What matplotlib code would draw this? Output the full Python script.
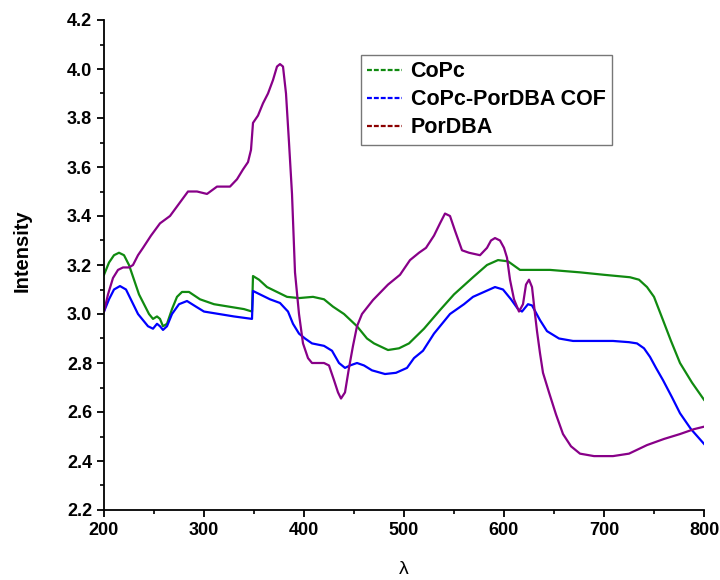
import numpy as np
import matplotlib
matplotlib.use('Agg')
import matplotlib.pyplot as plt
from matplotlib.lines import Line2D
from matplotlib.ticker import MultipleLocator

plt.rcParams['font.family'] = ['Liberation Sans', 'DejaVu Sans']

#**************** data ****************#
copc_x = [200, 205, 210, 215, 220, 225, 230, 235, 240, 245, 249, 253, 256, 259, 263,
          268, 273, 278, 285, 296, 310, 325, 340, 348, 349, 355, 363, 373, 383, 395,
          409, 420, 429, 440, 453, 463, 470, 484, 495, 505, 520, 536, 550, 569, 583,
          594, 604, 616, 630, 646, 676, 700, 726, 735, 743, 750, 759, 767, 776, 788, 800]
copc_y = [3.16, 3.21, 3.24, 3.25, 3.24, 3.20, 3.14, 3.08, 3.04, 3.00, 2.98, 2.99, 2.98, 2.95, 2.96,
          3.02, 3.07, 3.09, 3.09, 3.06, 3.04, 3.03, 3.02, 3.01, 3.155, 3.14, 3.11, 3.09, 3.07, 3.065,
          3.07, 3.06, 3.03, 3.00, 2.95, 2.90, 2.88, 2.853, 2.86, 2.88, 2.94, 3.016, 3.08, 3.15, 3.20,
          3.22, 3.215, 3.18, 3.18, 3.18, 3.17, 3.16, 3.15, 3.14, 3.11, 3.07, 2.975, 2.89, 2.80, 2.72, 2.65]

cof_x = [200, 205, 210, 216, 222, 228, 234, 240, 244, 249, 253, 256, 259, 263, 268,
         275, 283, 292, 300, 315, 330, 348, 349, 356, 366, 376, 384, 389, 395, 401,
         408, 420, 428, 435, 441, 446, 453, 460, 468, 481, 492, 503, 510, 519, 530,
         546, 560, 569, 580, 591, 599, 607, 614, 618, 624, 628, 636, 643, 655, 669,
         690, 709, 725, 733, 740, 746, 752, 759, 768, 776, 787, 800]
cof_y = [3.01, 3.06, 3.10, 3.114, 3.10, 3.05, 3.00, 2.97, 2.95, 2.94, 2.96, 2.95, 2.935, 2.95, 3.00,
         3.04, 3.053, 3.03, 3.01, 3.00, 2.99, 2.98, 3.094, 3.08, 3.06, 3.045, 3.01, 2.96, 2.92, 2.90,
         2.88, 2.87, 2.85, 2.80, 2.78, 2.79, 2.80, 2.79, 2.77, 2.755, 2.76, 2.78, 2.82, 2.85, 2.92,
         3.00, 3.04, 3.07, 3.09, 3.11, 3.10, 3.06, 3.02, 3.01, 3.04, 3.035, 2.975, 2.93, 2.90, 2.89,
         2.89, 2.89, 2.885, 2.88, 2.86, 2.825, 2.78, 2.73, 2.66, 2.595, 2.53, 2.47]

por_x = [200, 204, 209, 214, 219, 225, 229, 234, 239, 247, 256, 266, 275, 284, 293,
         303, 313, 326, 333, 339, 344, 347, 349, 354, 359, 364, 369, 373, 376, 379,
         382, 385, 388, 391, 395, 399, 404, 408, 413, 420, 425, 430, 434, 437, 441,
         445, 449, 453, 458, 469, 484, 496, 506, 515, 522, 530, 536, 541, 546, 551,
         558, 565, 576, 583, 587, 591, 596, 600, 603, 606, 610, 615, 619, 622, 625,
         628, 631, 633, 636, 639, 645, 652, 659, 667, 676, 690, 709, 725, 743, 760,
         776, 790, 800]
por_y = [3.01, 3.08, 3.147, 3.18, 3.19, 3.19, 3.20, 3.24, 3.27, 3.32, 3.37, 3.40, 3.45, 3.50, 3.50,
         3.49, 3.52, 3.52, 3.55, 3.59, 3.62, 3.67, 3.78, 3.81, 3.86, 3.90, 3.955, 4.01, 4.02, 4.01,
         3.90, 3.70, 3.49, 3.17, 3.00, 2.88, 2.82, 2.80, 2.80, 2.80, 2.79, 2.73, 2.68, 2.655, 2.68,
         2.78, 2.87, 2.95, 3.00, 3.057, 3.12, 3.16, 3.22, 3.25, 3.27, 3.32, 3.37, 3.41, 3.40, 3.34,
         3.26, 3.25, 3.24, 3.27, 3.30, 3.31, 3.30, 3.27, 3.23, 3.14, 3.06, 3.01, 3.04, 3.12, 3.14,
         3.11, 3.00, 2.93, 2.84, 2.76, 2.68, 2.59, 2.51, 2.46, 2.43, 2.42, 2.42, 2.43, 2.465, 2.49,
         2.51, 2.53, 2.54]

labels = ['CoPc', 'CoPc-PorDBA COF', 'PorDBA']
line_colors = ['#108a10', '#0000ff', '#880088']
legend_colors = ['#108a10', '#0000ff', '#8b0000']

#**************** plot ****************#
fig = plt.figure(figsize=(7.2, 5.8), dpi=100)
ax = fig.add_axes([104/720, 70/580, 600/720, 490/580])

ax.plot(copc_x, copc_y, color=line_colors[0], lw=1.6)
ax.plot(cof_x, cof_y, color=line_colors[1], lw=1.6)
ax.plot(por_x, por_y, color=line_colors[2], lw=1.6)

ax.set_xlim(200, 800)
ax.set_ylim(2.2, 4.2)
ax.xaxis.set_major_locator(MultipleLocator(100))
ax.xaxis.set_minor_locator(MultipleLocator(50))
ax.yaxis.set_major_locator(MultipleLocator(0.2))
ax.yaxis.set_minor_locator(MultipleLocator(0.1))
ax.yaxis.set_major_formatter(matplotlib.ticker.FormatStrFormatter('%.1f'))

for s in ['top', 'right']:
    ax.spines[s].set_visible(False)
for s in ['left', 'bottom']:
    ax.spines[s].set_linewidth(1.3)
ax.tick_params(which='major', direction='out', length=5, width=1.3, labelsize=13)
ax.tick_params(which='minor', direction='out', length=3, width=1.2)
for t in ax.get_xticklabels() + ax.get_yticklabels():
    t.set_fontweight('bold')

ax.set_ylabel('Intensity', fontsize=14.5, fontweight='bold')
ax.yaxis.set_label_coords(-0.12, 0.53)
ax.set_xlabel('λ', fontsize=14)
ax.xaxis.set_label_coords(0.5, -0.104)

handles = [Line2D([], [], color=c, lw=1.6, linestyle=(0, (2.2, 0.9))) for c in legend_colors]
leg = fig.legend(handles, labels, loc='upper left', bbox_to_anchor=(361/720, 1 - 55/580),
                 prop={'size': 15.5, 'weight': 'bold'}, frameon=True, fancybox=False,
                 handlelength=1.6, handletextpad=0.4, labelspacing=0.32, borderpad=0.3,
                 borderaxespad=0)
leg.get_frame().set_edgecolor('#555555')
leg.get_frame().set_linewidth(1.0)

fig.savefig('out.png', dpi=100)
